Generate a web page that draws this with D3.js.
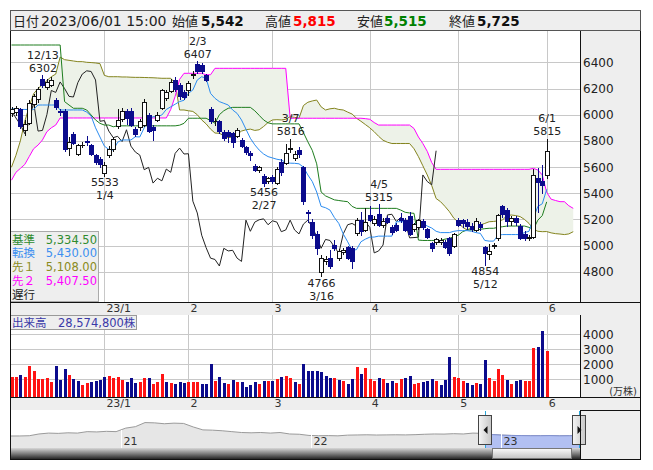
<!DOCTYPE html>
<html lang="ja">
<head>
<meta charset="utf-8">
<title>日足チャート 一目均衡表</title>
<script src="https://cdn.jsdelivr.net/npm/d3@7/dist/d3.min.js"></script>
<style>
html,body{margin:0;padding:0;background:#fff;}
svg{display:block;}
text{font-family:"DejaVu Sans","Noto Sans CJK JP",sans-serif;}
</style>
</head>
<body>
<svg id="chart" width="653" height="470"></svg>
<script>
// ---- daily prices (yen), first session 2022-12-02 ----
const opens = [
 6010,6020,6040,5880,5940,6080,6120,6275,6215,6230,
 6110,6030,6030,5745,5850,5700,5765,5800,5765,5690,
 5660,5555,5690,5735,5910,5970,6030,6030,5890,5905,
 5925,6000,5905,5960,6050,6125,6180,6265,6230,6175,
 6190,6300,6390,6380,6300,6040,5950,5950,5865,5870,
 5860,5840,5810,5750,5705,5605,5580,5535,5495,5525,
 5480,5640,5630,5735,5667,5728,5600,5260,5180,5090,
 4800,4880,4905,5005,4905,4955,4990,4980,5095,5195,
 5120,5235,5175,5240,5155,5215,5145,5160,5210,5195,
 5230,5130,5145,5190,5125,5018,5030,5030,5030,5058,
 5000,5195,5195,5180,5150,5120,5165,4990,4940,4995,
 5055,5300,5270,5185,5215,5150,5090,5060,5070,5515,
 5495,5542];
const highs = [
 6060,6070,6050,5960,6110,6160,6215,6302,6275,6290,
 6130,6040,6040,5830,5870,5775,5790,5835,5775,5700,
 5680,5640,5760,5830,6040,6050,6040,6050,5905,5965,
 6120,6010,5920,6020,6200,6190,6270,6285,6240,6190,
 6260,6330,6407,6395,6310,6055,5975,5960,5880,5885,
 5870,5900,5820,5760,5720,5620,5605,5545,5525,5540,
 5600,5660,5780,5816,5720,5752,5610,5275,5200,5110,
 4930,4920,4965,5040,4975,4985,5000,4995,5210,5260,
 5285,5300,5230,5315,5210,5230,5160,5175,5250,5210,
 5260,5175,5205,5200,5135,5030,5060,5055,5045,5070,
 5095,5215,5205,5200,5170,5215,5180,5000,5010,5020,
 5245,5310,5285,5225,5230,5165,5110,5085,5585,5590,
 5615,5815];
const lows = [
 5990,6000,5900,5845,5930,6060,6100,6210,6200,6220,
 6040,6000,5720,5695,5775,5690,5750,5770,5690,5620,
 5600,5533,5680,5720,5900,5950,5930,5910,5840,5880,
 5915,5865,5805,5950,6040,6110,6170,6180,6120,6120,
 6150,6280,6320,6320,6255,5940,5925,5860,5810,5790,
 5755,5830,5750,5700,5655,5570,5565,5456,5480,5480,
 5470,5540,5620,5715,5655,5680,5320,5180,5060,4940,
 4766,4860,4830,4965,4890,4940,4895,4832,5080,5080,
 5110,5185,5160,5150,5140,5170,5090,5110,5180,5110,
 5080,5110,5130,5130,5055,4960,5010,5015,4985,4930,
 4990,5150,5140,5130,5110,5110,5120,4854,4900,4980,
 5040,5220,5150,5160,5160,5050,5040,5040,5060,5260,
 5400,5515];
const closes = [
 6040,6050,5915,5930,6090,6140,6195,6225,6250,6265,
 6060,6020,5735,5790,5785,5765,5770,5790,5700,5640,
 5620,5615,5740,5815,5960,6030,5975,5925,5855,5950,
 6095,5875,5880,6000,6185,6170,6250,6200,6140,6135,
 6245,6310,6335,6330,6265,5950,5955,5875,5825,5835,
 5795,5885,5760,5715,5692,5580,5598,5478,5515,5495,
 5585,5560,5705,5745,5700,5702,5340,5250,5080,4985,
 4905,4895,4845,4980,4960,4965,4905,4880,5195,5110,
 5180,5198,5205,5160,5190,5180,5107,5120,5195,5120,
 5090,5165,5195,5140,5070,4980,5048,5040,4992,4942,
 5090,5160,5170,5150,5130,5185,5140,4945,4960,5005,
 5235,5240,5185,5215,5180,5060,5062,5065,5540,5490,
 5465,5725];
// ---- volume, 万株 ----
const volumes = [
 1153,1153,1287,1153,1907,1573,1040,1040,1087,840,
 1907,953,1687,1287,1020,887,620,773,798,864,
 931,1153,1220,1109,1176,953,820,1087,775,820,
 1087,1087,709,840,1353,820,753,709,820,731,
 840,840,798,709,709,2020,887,1153,753,687,
 953,820,820,487,620,820,687,887,887,864,
 1020,1153,1220,1087,820,687,2020,1553,1553,1553,
 1507,1220,1087,1087,953,887,687,1020,1820,1353,
 1753,1020,909,1087,998,753,887,731,1020,1087,
 1220,687,753,820,887,1020,887,620,953,2487,
 1153,1087,887,753,620,753,687,2287,1087,887,
 1687,1287,953,687,887,953,887,887,3067,3133,
 4220,2857.48];
// ---- 一目均衡表 ----
const tenkan = [
 6045,6045,6040,6040,6040,6040,6074,6074,6074,6074,
 6074,6036,6036,6036,6036,6036,6036,6020,5990,5900,
 5830,5760,5735,5730,5790,5807,5807,5807,5832,5830,
 5900,5960,5985,5985,5998,6040,6060,6080,6100,6110,
 6163,6189,6265,6290,6278,6163,6125,6100,6087,6074,
 6036,6010,5960,5890,5820,5770,5730,5700,5680,5670,
 5660,5654,5636,5630,5629,5625,5600,5540,5490,5410,
 5300,5290,5272,5215,5170,5090,5030,4965,4970,5030,
 5050,5065,5066,5073,5073,5073,5073,5183,5183,5183,
 5170,5160,5170,5170,5150,5135,5110,5100,5100,5100,
 5110,5115,5115,5115,5110,5100,5094,5040,5035,5035,
 5080,5085,5085,5085,5085,5085,5100,5110,5210,5300,
 5320,5430];
const kijun = [
 6532,6532,6532,6532,6532,6532,6532,6532,6532,6532,
 6532,6532,6100,6074,6049,6049,6049,6036,5998,5960,
 5934,5921,5921,5908,5915,5915,5915,5915,5915,5915,
 5915,5915,5915,5915,5915,5915,5915,5915,5920,5934,
 5973,5973,5973,5973,5973,5955,5935,6000,6030,6049,
 6056,6056,6056,6056,6056,6030,5995,5960,5938,5930,
 5930,5930,5930,5930,5930,5930,5863,5793,5728,5625,
 5410,5380,5365,5350,5345,5340,5336,5300,5285,5285,
 5285,5285,5285,5285,5285,5285,5285,5285,5272,5255,
 5250,5247,5043,5040,5040,5040,5040,5040,5050,5056,
 5069,5080,5107,5120,5120,5120,5125,5130,5133,5133,
 5140,5145,5150,5150,5150,5150,5150,5140,5125,5195,
 5230,5334.5];
const senkouA = [
 5600,5690,5800,5950,6060,6160,6200,6230,6260,6290,
 6310,6440,6420,6415,6410,6405,6405,6400,6398,6395,
 6390,6300,6290,6290,6290,6288,6288,6286,6285,6285,
 6284,6283,6282,6280,6278,6278,6278,6240,6036,6036,
 6030,6025,6000,5960,5930,5890,5860,5858,5840,5825,
 5830,5850,5875,5885,5890,5880,5885,5910,5940,5960,
 5962,5960,5965,5985,5980,5973,6070,6095,6105,6112,
 6060,6036,6045,6049,6040,6036,6020,6005,5973,5950,
 5925,5900,5870,5835,5805,5790,5780,5780,5780,5780,
 5780,5740,5680,5610,5540,5460,5360,5336,5300,5260,
 5210,5180,5140,5120,5135,5150,5158,5170,5183,5185,
 5190,5196,5230,5234,5230,5222,5200,5170,5125,5110,
 5107,5108,5098,5092,5089,5085,5090,5107];
const senkouB = [
 5500,5560,5590,5620,5680,5740,5768,5807,5870,5900,
 5921,5975,5975,5975,5975,5975,5975,5975,5975,5975,
 5975,5975,5975,5975,5975,5975,5975,5975,5975,5975,
 5975,5975,5975,5975,5975,5975,6040,6140,6270,6316,
 6316,6316,6316,6316,6305,6305,6354,6354,6354,6354,
 6354,6354,6354,6354,6354,6354,6354,6354,6354,6354,
 6354,6354,6354,5973,5973,5973,5973,5973,5973,5973,
 5973,5973,5973,5973,5973,5973,5973,5973,5973,5973,
 5970,5965,5940,5921,5921,5921,5921,5921,5921,5921,
 5921,5895,5830,5780,5720,5635,5583,5583,5583,5583,
 5583,5583,5583,5583,5583,5583,5583,5583,5583,5583,
 5583,5583,5583,5583,5583,5583,5583,5583,5590,5578,
 5540,5407.5,5355,5345,5336,5336,5305,5285];
const chikouShift = 25;

// ---- calendar ----
const firstSession = "2022-12-02";
const holidays = ["2023-01-02","2023-01-03","2023-01-09","2023-02-23","2023-03-21","2023-05-03","2023-05-04","2023-05-05"];

// ---- annotated extremes: [session index, which end] ----
const markers = [[7,"high"],[21,"low"],[42,"high"],[57,"low"],[63,"high"],[70,"low"],[83,"high"],[107,"low"],[121,"high"]];

// ---- axis ticks ----
const priceTicks = [4800,5000,5200,5400,5600,5800,6000,6200,6400];
const volumeTicks = [1000,2000,3000,4000];

// ---- long-range overview for the navigator ----
const overviewFrom = "2020-06-01", overviewTo = "2023-06-01";
const overview = [
 4550,4560,4600,4900,5050,5000,5100,5050,5300,5250,
 5350,5300,5900,6150,6850,6800,6650,6750,6700,6100,
 5600,5550,5450,5300,5150,5100,5150,5050,5150,4900,
 4850,4650,4600,4620,4580,4700,4730,4760,4720,4740,
 4760,4740,4780,4850,4900,4880,4950,4900,5050,5000,
 4800,4700,4650,4620,4600,4600,4620,4580,4600,4620];

// ================= drawing =================
const svg = d3.select("#chart");
const defs = svg.append("defs");
const fmtInt = d3.format(",");
const fmt2 = d3.format(",.2f");
const snap = v => Math.round(v) + 0.5;

// session dates
const dates = [];
{
  const d = new Date(firstSession + "T00:00:00Z");
  while (dates.length < closes.length) {
    const s = d.toISOString().slice(0, 10), wd = d.getUTCDay();
    if (wd !== 0 && wd !== 6 && !holidays.includes(s)) dates.push(new Date(d));
    d.setUTCDate(d.getUTCDate() + 1);
  }
}
const last = closes.length - 1;

// layout
const L = 10, PR = 580, R = 640;
const mainTop = 31, mainBot = 302;
const volTop = 315, volBot = 397;
const navTop = 410, navBot = 448, barBot = 459;

const x = d3.scaleLinear().domain([0, last]).range([11.5, 546.7]);
const y = d3.scaleLinear().domain([4800, 6400]).range([271.9, 62.3]);
const vy = d3.scaleLinear().domain([-180, 4000]).range([volBot, 334.3]);

const monthStarts = d3.range(1, dates.length).filter(i => dates[i].getUTCMonth() !== dates[i - 1].getUTCMonth());
const monthLabel = i => dates[i].getUTCMonth() === 0
  ? String(dates[i].getUTCFullYear()).slice(2) + "/1"
  : String(dates[i].getUTCMonth() + 1);
const md = d => (d.getUTCMonth() + 1) + "/" + d.getUTCDate();

function label(g, px, py, str, o = {}) {
  return g.append("text").attr("x", px).attr("y", py).text(str)
    .attr("font-size", o.size || 11.5)
    .attr("font-weight", o.bold ? "bold" : null)
    .attr("fill", o.color || "#222")
    .attr("text-anchor", o.anchor || "start");
}

const UP = "#ffffff", DOWN = "#0b0b8c";
const RED = "#ff1414";

// ---------- header ----------
const head = svg.append("g");
head.append("rect").attr("x", 10.5).attr("y", 10.5).attr("width", 630).attr("height", 20)
  .attr("fill", "#eeeeee").attr("stroke", "#555");
const hb = 25.5;
label(head, 13, hb, "日付", {size: 13});
label(head, 41, hb, d3.utcFormat("%Y/%m/%d")(dates[last]) + " 15:00", {size: 14});
label(head, 172, hb, "始値", {size: 13});
label(head, 201, hb, fmtInt(opens[last]), {size: 13.5, bold: true, color: "#111"});
label(head, 265, hb, "高値", {size: 13});
label(head, 293, hb, fmtInt(highs[last]), {size: 13.5, bold: true, color: "#ff0000"});
label(head, 357, hb, "安値", {size: 13});
label(head, 384, hb, fmtInt(lows[last]), {size: 13.5, bold: true, color: "#008000"});
label(head, 449, hb, "終値", {size: 13});
label(head, 477, hb, fmtInt(closes[last]), {size: 13.5, bold: true, color: "#111"});

// ---------- main price panel ----------
defs.append("clipPath").attr("id", "plotClip").append("rect")
  .attr("x", L + 1).attr("y", mainTop).attr("width", PR - L - 1).attr("height", mainBot - mainTop);
const mainG = svg.append("g");
mainG.append("rect").attr("x", L).attr("y", mainTop).attr("width", PR - L).attr("height", mainBot - mainTop).attr("fill", "#fff");

const grid = mainG.append("g").attr("stroke", "#c8c8c8").attr("shape-rendering", "crispEdges");
priceTicks.forEach(v => grid.append("line").attr("x1", L).attr("x2", PR).attr("y1", snap(y(v))).attr("y2", snap(y(v))));
monthStarts.forEach(i => grid.append("line").attr("x1", snap(x(i))).attr("x2", snap(x(i))).attr("y1", mainTop).attr("y2", mainBot));

const plot = mainG.append("g").attr("clip-path", "url(#plotClip)");

// cloud
const cloud = d3.zip(senkouA, senkouB);
plot.append("path").datum(cloud)
  .attr("d", d3.area().x((d, i) => x(i)).y0(d => y(d[0])).y1(d => y(d[1])))
  .attr("fill", "#edf2e8");

const lineOf = d3.line().x((d, i) => x(i)).y(d => y(d));
const drawLine = (data, color) => plot.append("path").datum(data).attr("d", lineOf)
  .attr("fill", "none").attr("stroke", color).attr("stroke-width", 1);
drawLine(senkouA, "#84841e");
drawLine(senkouB, "#ff00ff");
drawLine(closes.slice(chikouShift), "#222222");
drawLine(kijun, "#1e7d1e");
drawLine(tenkan, "#2b8cf0");

// candles
const candles = plot.append("g").attr("shape-rendering", "crispEdges");
closes.forEach((c, i) => {
  const o = opens[i], up = c >= o;
  const xc = Math.round(x(i));
  const col = up ? "#111" : DOWN;
  candles.append("line").attr("x1", xc + 0.5).attr("x2", xc + 0.5)
    .attr("y1", Math.round(y(highs[i]))).attr("y2", Math.round(y(lows[i])) + 1)
    .attr("stroke", col);
  const yt = snap(y(Math.max(o, c))), yb = snap(y(Math.min(o, c)));
  const x0 = xc - 1.5, x1 = xc + 2.5;
  candles.append("path").attr("d", `M${x0},${yt}H${x1}V${yb}H${x0}Z`)
    .attr("fill", up ? UP : DOWN).attr("stroke", col);
});

// extreme labels
const mk = mainG.append("g");
markers.forEach(([i, kind]) => {
  const xc = x(i) + 0.5;
  if (kind === "high") {
    const yh = y(highs[i]);
    label(mk, xc, yh - 16.5, md(dates[i]), {anchor: "middle", size: 11});
    label(mk, xc, yh - 3.5, String(highs[i]), {anchor: "middle", size: 11});
  } else {
    const yl = y(lows[i]);
    label(mk, xc, yl + 10.5, String(lows[i]), {anchor: "middle", size: 11});
    label(mk, xc, yl + 23.5, md(dates[i]), {anchor: "middle", size: 11});
  }
});

// legend
const lg = mainG.append("g");
lg.append("rect").attr("x", 10.5).attr("y", 231.5).attr("width", 88).attr("height", 70)
  .attr("fill", "#eeeeee").attr("stroke", "#aaaaaa").attr("shape-rendering", "crispEdges");
const legendRows = [
  ["基準", kijun[last], "#2e8b2e"],
  ["転換", tenkan[last], "#3b8ff0"],
  ["先１", senkouA[last], "#8a8a20"],
  ["先２", senkouB[last], "#ff00ff"],
  ["遅行", null, "#222222"]
];
legendRows.forEach(([name, v, col], k) => {
  const by = 243.5 + k * 13.8;
  label(lg, 12, by, name, {size: 11.5, color: col});
  if (v !== null) label(lg, 97, by, fmt2(v), {size: 11.5, color: col, anchor: "end"});
});

// right price scale
svg.append("rect").attr("x", PR).attr("y", mainTop).attr("width", R - PR).attr("height", mainBot - mainTop).attr("fill", "#eeeeee");
const axR = svg.append("g");
priceTicks.forEach(v => label(axR, 583, y(v) + 4.5, String(v), {size: 12}));

// frame lines of price panel
const frame = svg.append("g").attr("stroke", "#111").attr("shape-rendering", "crispEdges");
frame.append("line").attr("x1", PR + 0.5).attr("x2", PR + 0.5).attr("y1", mainTop).attr("y2", mainBot);

// ---------- month strips ----------
function strip(top, bottom) {
  const g = svg.append("g");
  g.append("rect").attr("x", L).attr("y", top).attr("width", R - L).attr("height", bottom - top).attr("fill", "#eeeeee");
  g.append("line").attr("x1", L).attr("x2", R).attr("y1", top + 0.5).attr("y2", top + 0.5).attr("stroke", "#111").attr("shape-rendering", "crispEdges");
  g.append("line").attr("x1", L).attr("x2", R).attr("y1", bottom + 0.5).attr("y2", bottom + 0.5).attr("stroke", "#111").attr("shape-rendering", "crispEdges");
  monthStarts.forEach(i => label(g, x(i) + 2, top + 9.5, monthLabel(i), {size: 11, color: "#333"}));
}
strip(mainBot, volTop);

// ---------- volume panel ----------
const volG = svg.append("g");
volG.append("rect").attr("x", L).attr("y", volTop).attr("width", PR - L).attr("height", volBot - volTop).attr("fill", "#fff");
const vgrid = volG.append("g").attr("stroke", "#c8c8c8").attr("shape-rendering", "crispEdges");
volumeTicks.forEach(v => vgrid.append("line").attr("x1", L).attr("x2", PR).attr("y1", snap(vy(v))).attr("y2", snap(vy(v))));
monthStarts.forEach(i => vgrid.append("line").attr("x1", snap(x(i))).attr("x2", snap(x(i))).attr("y1", volTop).attr("y2", volBot));
const bars = volG.append("g").attr("shape-rendering", "crispEdges");
volumes.forEach((v, i) => {
  const rising = i === 0 ? closes[0] >= opens[0] : closes[i] >= closes[i - 1];
  const xc = Math.round(x(i));
  const top = Math.round(vy(v));
  bars.append("rect").attr("x", xc - 1).attr("y", top).attr("width", 3).attr("height", volBot - top)
    .attr("fill", rising ? RED : DOWN);
});
const vbox = volG.append("g");
vbox.append("rect").attr("x", 10.5).attr("y", volTop + 0.5).attr("width", 126).attr("height", 14)
  .attr("fill", "#eeeeee").attr("stroke", "#999").attr("shape-rendering", "crispEdges");
label(vbox, 12, volTop + 12, "出来高", {size: 11.5, color: "#3a3aa8"});
label(vbox, 58, volTop + 12, fmtInt(Math.round(volumes[last] * 10000)) + "株", {size: 11.5, color: "#3a3aa8"});
svg.append("rect").attr("x", PR).attr("y", volTop).attr("width", R - PR).attr("height", volBot - volTop).attr("fill", "#eeeeee");
volumeTicks.forEach(v => label(svg, 583, vy(v) + 4.5, String(v), {size: 12}));
label(svg, 637, volBot - 2.5, "(万株)", {size: 10, anchor: "end", color: "#333"});
svg.append("line").attr("x1", PR + 0.5).attr("x2", PR + 0.5).attr("y1", volTop).attr("y2", volBot)
  .attr("stroke", "#111").attr("shape-rendering", "crispEdges");

strip(volBot, navTop);

// ---------- navigator ----------
const navG = svg.append("g");
navG.append("rect").attr("x", L).attr("y", navTop).attr("width", PR - L).attr("height", barBot - navTop).attr("fill", "#fff");
navG.append("rect").attr("x", PR).attr("y", navTop + 1).attr("width", R - PR).attr("height", barBot - navTop - 1).attr("fill", "#eeeeee");
const t0 = new Date(overviewFrom + "T00:00:00Z"), t1 = new Date(overviewTo + "T00:00:00Z");
const nx = d3.scaleUtc().domain([t0, t1]).range([L, PR - 1]);
const ny = d3.scaleLinear().domain([2500, 9000]).range([navBot, navTop]);
const ovPts = overview.map((v, i) => ({t: new Date(+t0 + i * (t1 - t0) / (overview.length - 1)), v}));
const ovArea = d3.area().x(d => nx(d.t)).y0(navBot).y1(d => ny(d.v));
const ovLine = d3.line().x(d => nx(d.t)).y(d => ny(d.v));
navG.append("path").datum(ovPts).attr("d", ovArea).attr("fill", "#e6e6e6");
navG.append("path").datum(ovPts).attr("d", ovLine).attr("fill", "none").attr("stroke", "#9a9a9a");

const selX0 = nx(dates[0]), selX1 = nx(dates[last]);
defs.append("clipPath").attr("id", "selClip").append("rect")
  .attr("x", selX0).attr("y", navTop).attr("width", selX1 - selX0 + 1).attr("height", navBot - navTop);
const sel = navG.append("g").attr("clip-path", "url(#selClip)");
sel.append("path").datum(ovPts).attr("d", ovArea).attr("fill", "#b2c0f2");
sel.append("path").datum(ovPts).attr("d", ovLine).attr("fill", "none").attr("stroke", "#7f8fd0");

// year boundaries
d3.utcYears(t0, t1).forEach(t => {
  const px = Math.round(nx(t)) + 0.5;
  navG.append("line").attr("x1", px).attr("x2", px).attr("y1", 430).attr("y2", navBot).attr("stroke", "#fff");
  label(navG, px + 2, navBot - 3, String(t.getUTCFullYear()).slice(2), {size: 11, color: "#333"});
});

[selX0, selX1].forEach(px => navG.append("line").attr("x1", snap(px)).attr("x2", snap(px))
  .attr("y1", navTop + 1).attr("y2", navBot).attr("stroke", "#2aa6d8").attr("shape-rendering", "crispEdges"));

// scrollbar
const gBar = defs.append("linearGradient").attr("id", "barGrad").attr("x1", 0).attr("x2", 0).attr("y1", 0).attr("y2", 1);
gBar.append("stop").attr("offset", 0).attr("stop-color", "#d6d6d6");
gBar.append("stop").attr("offset", 0.5).attr("stop-color", "#808080");
gBar.append("stop").attr("offset", 1).attr("stop-color", "#262626");
const gThumb = defs.append("linearGradient").attr("id", "thumbGrad").attr("x1", 0).attr("x2", 0).attr("y1", 0).attr("y2", 1);
gThumb.append("stop").attr("offset", 0).attr("stop-color", "#fbfbfb");
gThumb.append("stop").attr("offset", 1).attr("stop-color", "#c2c2c2");
navG.append("rect").attr("x", L).attr("y", navBot).attr("width", PR - L).attr("height", barBot - navBot).attr("fill", "url(#barGrad)");
navG.append("rect").attr("x", Math.round(selX0) + 7.5).attr("y", navBot + 0.5)
  .attr("width", Math.round(selX1 - selX0) - 15).attr("height", barBot - navBot - 1)
  .attr("fill", "url(#thumbGrad)").attr("stroke", "#777");

// handles
const gHandle = defs.append("linearGradient").attr("id", "handleGrad").attr("x1", 0).attr("x2", 1).attr("y1", 0).attr("y2", 0);
gHandle.append("stop").attr("offset", 0).attr("stop-color", "#f6f6f6");
gHandle.append("stop").attr("offset", 1).attr("stop-color", "#c6c6c6");
[[selX0, -1], [selX1, 1]].forEach(([px, dir]) => {
  const cx = Math.round(px);
  navG.append("rect").attr("x", cx - 6.5).attr("y", 415.5).attr("width", 13).attr("height", 29)
    .attr("fill", "url(#handleGrad)").attr("stroke", "#444");
  navG.append("path").attr("d", `M${cx + 0.5 + 2 * dir},430 L${cx + 0.5 - 2 * dir},426 L${cx + 0.5 - 2 * dir},434 Z`).attr("fill", "#111");
});

// outer frame
const outer = svg.append("g").attr("stroke", "#111").attr("shape-rendering", "crispEdges");
outer.append("line").attr("x1", L + 0.5).attr("x2", L + 0.5).attr("y1", mainTop).attr("y2", barBot + 1);
outer.append("line").attr("x1", R + 0.5).attr("x2", R + 0.5).attr("y1", mainTop).attr("y2", barBot + 1);
outer.append("line").attr("x1", L).attr("x2", R + 1).attr("y1", barBot + 0.5).attr("y2", barBot + 0.5);
outer.append("line").attr("x1", PR + 0.5).attr("x2", PR + 0.5).attr("y1", navTop).attr("y2", barBot);
</script>
</body>
</html>
